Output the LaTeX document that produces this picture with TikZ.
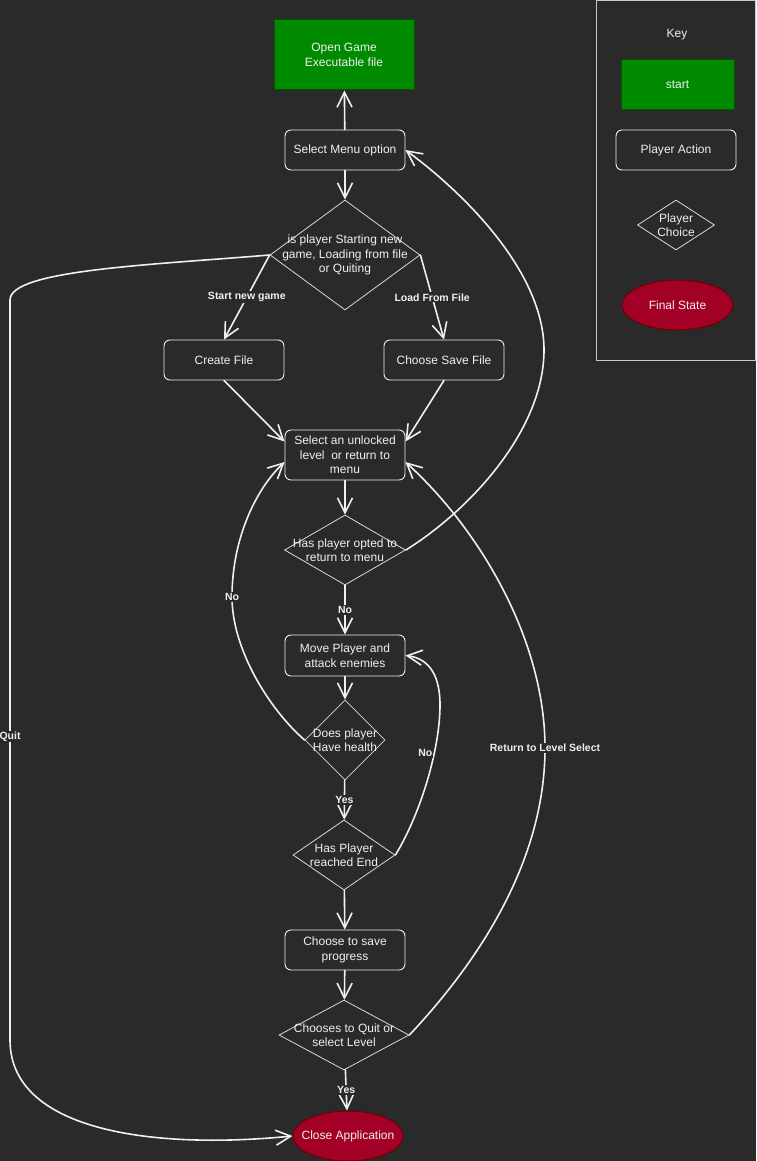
\documentclass[tikz,border=0pt]{standalone}
\usepackage{fontspec}
\setmainfont{Liberation Sans}
\usetikzlibrary{shapes.geometric,arrows.meta}
\definecolor{bg}{HTML}{2A2A2A}
\definecolor{txt}{HTML}{F0F0F0}
\definecolor{edgec}{HTML}{F0F0F0}
\definecolor{dstroke}{HTML}{D8D8D8}
\definecolor{panelc}{HTML}{C8C8C8}
\definecolor{startfill}{HTML}{008A00}
\definecolor{startedge}{HTML}{005700}
\definecolor{finalfill}{HTML}{A20025}
\definecolor{finaledge}{HTML}{6F0000}

\tikzset{
  every node/.style={text=txt, font=\fontsize{12}{14.5}\selectfont, align=center},
  action/.style={draw=txt, line width=0.9pt, rounded corners=6pt, fill=bg,
    minimum width=120pt, minimum height=40pt, inner sep=0pt},
  startbox/.style={draw=startedge, fill=startfill, line width=1pt, inner sep=0pt},
  choice/.style 2 args={shape=diamond, draw=dstroke, line width=0.8pt,
    minimum width=#1, minimum height=#2, inner sep=0pt},
  final/.style 2 args={ellipse, draw=finaledge, fill=finalfill, line width=1pt,
    minimum width=#1, minimum height=#2, inner sep=0pt},
  flow/.style={draw=edgec, line width=1.6pt, line cap=round,
    -{Straight Barb[length=15pt,width=15pt]}},
  elabel/.style={fill=bg, inner sep=1pt, font=\bfseries\fontsize{10.5}{12}\selectfont},
  panel/.style={draw=panelc, line width=1pt},
}

\begin{document}
\begin{tikzpicture}[x=1pt,y=-1pt]
\useasboundingbox (0,0) rectangle (756,1161);
\fill[bg] (0,0) rectangle (756,1161);

% main flow nodes
\node[startbox, minimum width=140pt, minimum height=70pt] (open) at (344,55) {Open Game\\Executable file};
\node[action] (menu) at (345,150) {Select Menu option};
\node[choice={150pt}{110pt}, label={[align=center]center:{is player Starting new\\game, Loading from file\\or Quiting}}] (d1) at (345,255) {};
\node[action] (create) at (224,360) {Create File};
\node[action] (save) at (444,360) {Choose Save File};
\node[action, minimum height=50pt] (level) at (345,455) {Select an unlocked\\level\ \ or return to\\menu};
\node[choice={121pt}{70pt}, label={[align=center]center:{Has player opted to\\return to menu}}] (d2) at (345,550) {};
\node[action, minimum height=41pt] (move) at (345,655.5) {Move Player and\\attack enemies};
\node[choice={80pt}{80pt}, label={[align=center]center:{Does player\\Have health}}] (d3) at (345,740) {};
\node[choice={102pt}{70pt}, label={[align=center]center:{Has Player\\reached End}}] (d4) at (344,855) {};
\node[action] (savep) at (345,950) {Choose to save\\progress};
\node[choice={130pt}{70pt}, label={[align=center]center:{Chooses to Quit or\\select Level}}] (d5) at (344,1035) {};
\node[final={110pt}{50pt}, label=center:{Close Application}] (close) at (348,1136) {};

% connectors
\draw[flow] (menu) -- (open);
\draw[flow] (menu) -- (d1);
\draw[flow] (d1.west) -- node[elabel]{Start new game} (create.north);
\draw[flow] (d1.east) -- node[elabel]{Load From File} (save.north);
\draw[flow] (create.south) -- ([yshift=-12pt]level.north west);
\draw[flow] (save.south) -- ([yshift=-12pt]level.north east);
\draw[flow] (level) -- (d2);
\draw[flow] (d2.east) .. controls (470,510) and (544,430) .. (544,350)
  .. controls (544,270) and (460,190) .. (menu.east);
\draw[flow] (d2) -- node[elabel]{No} (move);
\draw[flow] (move) -- (d3);
\draw[flow] (d3.west) .. controls (270,710) and (232,650) .. (232,597) node[elabel]{No}
  .. controls (232,540) and (255,490) .. ([yshift=-7pt]level.west);
\draw[flow] (d3) -- node[elabel]{Yes} (d4);
\draw[flow] (d4.east) .. controls (420,815) and (440,750) .. node[elabel, pos=0.68, xshift=-9pt]{No} (440,705)
  .. controls (440,670) and (425,658) .. (move.east);
\draw[flow] (d4) -- (savep);
\draw[flow] (savep) -- (d5);
\draw[flow] (d5.east) .. controls (480,960) and (545,860) .. (545,748) node[elabel]{Return to Level Select}
  .. controls (545,640) and (480,530) .. ([yshift=-7pt]level.east);
\draw[flow] (d5) -- node[elabel]{Yes} (close);
\draw[flow] (d1.west) .. controls (150,265) and (10,270) .. (10,300)
  -- node[elabel, pos=0.59]{Quit} (10,1040)
  .. controls (10,1130) and (150,1150) .. (close.west);

% key panel
\draw[panel] (596,1) rectangle (755,360);
\node (keyt) at (677,35) {Key};
\node[startbox, minimum width=113pt, minimum height=50pt] (kstart) at (677.5,85) {start};
\node[action] (kaction) at (676,150) {Player Action};
\node[choice={77pt}{50pt}, label={[align=center]center:{Player\\Choice}}] (kchoice) at (676,225) {};
\node[final={111pt}{50pt}, label=center:{Final State}] (kfinal) at (677.5,305) {};
\end{tikzpicture}
\end{document}
